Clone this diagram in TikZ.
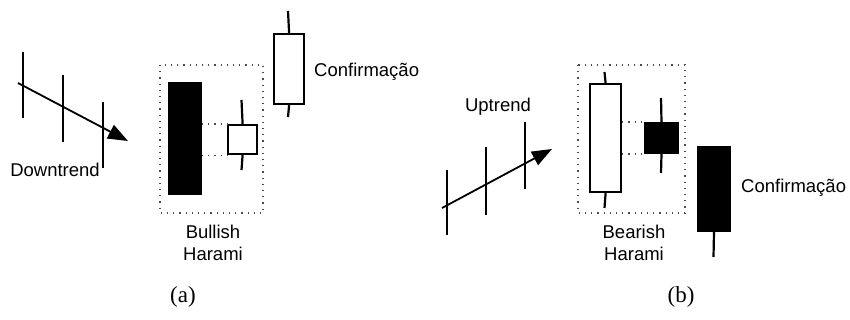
\documentclass[tikz,border=0pt]{standalone}
\usepackage{fontspec}
\setmainfont{Liberation Serif}
\setsansfont{Liberation Sans}
\usetikzlibrary{arrows.meta}
\begin{document}
\begin{tikzpicture}[x=1pt,y=-1pt,
  lbl/.style={font=\sffamily\fontsize{18.5}{22}\selectfont, inner sep=0pt},
  captxt/.style={font=\rmfamily\fontsize{23}{26}\selectfont, inner sep=0pt},
  bar/.style={line width=2.2pt},
  wick/.style={line width=2.2pt},
  wbody/.style={draw, line width=2.2pt, fill=white, inner sep=0pt, anchor=north west},
  bbody/.style={draw, line width=1pt, fill=black, inner sep=0pt, anchor=north west},
  dotbox/.style={line width=1.2pt, dash pattern=on 1.2pt off 5pt, black!70},
  trend/.style={line width=1.8pt, -{Triangle[length=20pt,width=15pt]}}]
\useasboundingbox (0,0) rectangle (850,320);

% ---------- panel (a) ----------
\coordinate (d1t) at (23,52);  \coordinate (d1b) at (23,118);
\coordinate (d2t) at (63,75);  \coordinate (d2b) at (63,142);
\coordinate (d3t) at (103,102); \coordinate (d3b) at (103,168);
\draw[bar] (d1t) -- (d1b);
\draw[bar] (d2t) -- (d2b);
\draw[bar] (d3t) -- (d3b);
\coordinate (das) at (18,83); \coordinate (dae) at (128,141);
\draw[trend] (das) -- (dae);
\node[lbl] (downlbl) at (55,170) {Downtrend};

\draw[dotbox] (160,65) rectangle (263,213);
\node[bbody, minimum width=33pt, minimum height=112pt] (A1) at (168,82) {};
\node[wbody, minimum width=29pt, minimum height=29pt] (A2) at (227,124) {};
\coordinate (A2t) at (241.5,100); \coordinate (A2b) at (241.5,170);
\draw[wick] (A2t) -- (A2.north);
\draw[wick] (A2.south) -- (A2b);
\draw[dotbox] (A1.east |- A2.north west) -- (A2.north west);
\draw[dotbox] (A1.east |- A2.south west) -- (A2.south west);

\node[wbody, minimum width=30pt, minimum height=70pt] (A3) at (273,33) {};
\coordinate (A3t) at (288,11); \coordinate (A3b) at (288,117);
\draw[wick] (A3t) -- (A3.north);
\draw[wick] (A3.south) -- (A3b);
\node[lbl, anchor=west] (confA) at (314,72) {Confirmação};
\node[lbl, align=center] (bullA) at (213,243) {Bullish\\Harami};
\node[captxt] (capA) at (183,297) {(a)};

% ---------- panel (b) ----------
\coordinate (u1t) at (447,170); \coordinate (u1b) at (447,235);
\coordinate (u2t) at (486,147); \coordinate (u2b) at (486,215);
\coordinate (u3t) at (525,122); \coordinate (u3b) at (525,189);
\draw[bar] (u1t) -- (u1b);
\draw[bar] (u2t) -- (u2b);
\draw[bar] (u3t) -- (u3b);
\coordinate (uas) at (442,208); \coordinate (uae) at (552,149);
\draw[trend] (uas) -- (uae);
\node[lbl] (uplbl) at (498,107) {Uptrend};

\draw[dotbox] (578,65) rectangle (685,213);
\node[wbody, minimum width=31pt, minimum height=108pt] (B1) at (589,83) {};
\coordinate (B1t) at (604.5,72); \coordinate (B1b) at (604.5,208);
\draw[wick] (B1t) -- (B1.north);
\draw[wick] (B1.south) -- (B1b);
\node[bbody, minimum width=34pt, minimum height=31pt] (B2) at (644,122) {};
\coordinate (B2t) at (661,98); \coordinate (B2b) at (661,173);
\draw[wick] (B2t) -- (B2.north);
\draw[wick] (B2.south) -- (B2b);
\draw[dotbox] (B1.east |- B2.north west) -- (B2.north west);
\draw[dotbox] (B1.east |- B2.south west) -- (B2.south west);

\node[bbody, minimum width=33pt, minimum height=85pt] (B3) at (697,146) {};
\coordinate (B3b) at (713.5,257);
\draw[wick] (B3.south) -- (B3b);
\node[lbl, anchor=west] (confB) at (741,188) {Confirmação};
\node[lbl, align=center] (bearB) at (634,243) {Bearish\\Harami};
\node[captxt] (capB) at (681,297) {(b)};
\end{tikzpicture}
\end{document}
